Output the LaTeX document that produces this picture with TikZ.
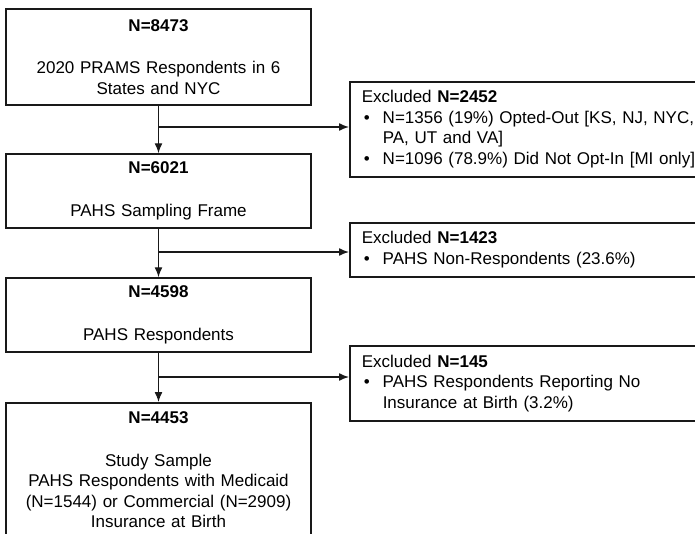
\documentclass[tikz,border=0pt]{standalone}
\usepackage{fontspec}
\setmainfont{Liberation Sans}
\usetikzlibrary{arrows.meta}

\newcommand{\bul}{\makebox[21pt][l]{\hspace{2pt}\textbullet}}
\newcommand{\ind}{\hspace*{21pt}}

\begin{document}
\begin{tikzpicture}[
  x=1pt,y=-1pt,
  line width=1.5pt,
  font=\fontsize{17pt}{20.5pt}\selectfont,
  stage/.style={draw=black!90,rectangle,align=center,text width=290pt,inner xsep=7.5pt,inner ysep=0pt},
  excl/.style={draw=black!90,rectangle,anchor=north west,align=left,text width=336pt,inner xsep=12pt,inner ysep=0pt},
  flow/.style={draw=black!90,line width=1.4pt,-{Latex[length=10pt,width=8pt]}}
]
  \useasboundingbox (0,0) rectangle (695,533);
  % main flow
  \node[stage,minimum height=96pt] (s1) at (158.5,57) {\textbf{N=8473}\\[22pt]2020 PRAMS Respondents in 6\\States and NYC};
  \node[stage,minimum height=74pt] (s2) at (158.5,191) {\textbf{N=6021}\\[22pt]PAHS Sampling Frame};
  \node[stage,minimum height=74pt] (s3) at (158.5,315) {\textbf{N=4598}\\[22pt]PAHS Respondents};
  \node[stage,minimum height=134pt,anchor=north] (s4) at (158.5,402) {\textbf{N=4453}\\[22pt]Study Sample\\PAHS Respondents with Medicaid\\(N=1544) or Commercial (N=2909)\\Insurance at Birth};
  % exclusions
  \node[excl,minimum height=95pt] (x1) at (349,81) {Excluded \textbf{N=2452}\\ \bul N=1356 (19\%) Opted-Out [KS, NJ, NYC,\\ \ind PA, UT and VA]\\ \bul N=1096 (78.9\%) Did Not Opt-In [MI only]};
  \node[excl,minimum height=54pt] (x2) at (349,222) {Excluded \textbf{N=1423}\\ \bul PAHS Non-Respondents (23.6\%)};
  \node[excl,minimum height=75pt] (x3) at (349,345) {Excluded \textbf{N=145}\\ \bul PAHS Respondents Reporting No\\ \ind Insurance at Birth (3.2\%)};
  \coordinate (b1) at (158.5,127);
  \coordinate (b2) at (158.5,252);
  \coordinate (b3) at (158.5,377);
  \draw[flow] (s1) -- (s2);
  \draw[flow] (s2) -- (s3);
  \draw[flow] (s3) -- (s4);
  \draw[flow] (b1) -- (b1 -| x1.west);
  \draw[flow] (b2) -- (b2 -| x2.west);
  \draw[flow] (b3) -- (b3 -| x3.west);
\end{tikzpicture}
\end{document}
